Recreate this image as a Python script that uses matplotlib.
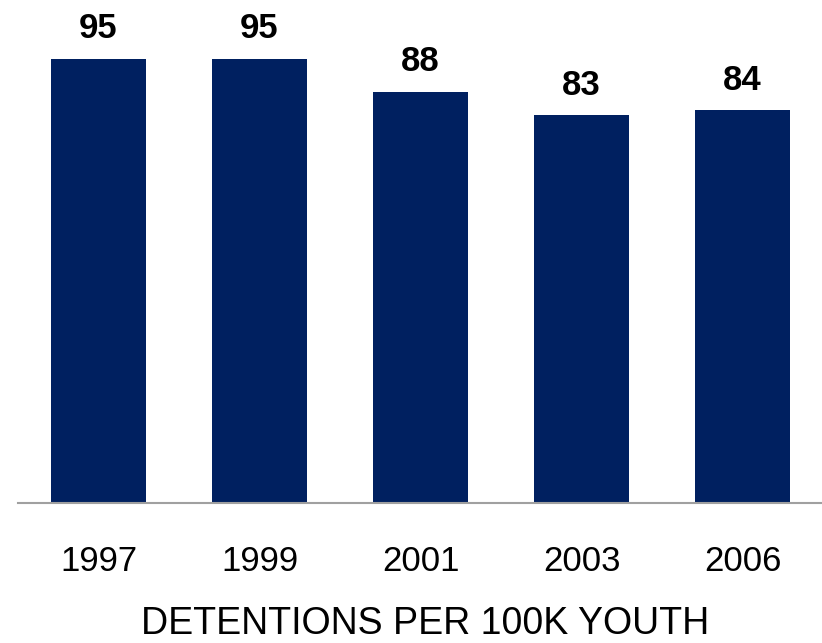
import matplotlib
matplotlib.use("Agg")
import matplotlib.pyplot as plt

plt.rcParams['font.family'] = ['Liberation Sans', 'DejaVu Sans']

years = ["1997", "1999", "2001", "2003", "2006"]
detentions = [95, 95, 88, 83, 84]

fig = plt.figure(figsize=(8.22, 6.43), dpi=100)
ax = fig.add_axes([18 / 822, (643 - 503) / 643, (823 - 18) / 822, 503 / 643])

x = range(len(years))
bars = ax.bar(x, detentions, width=0.59, color="#002060", zorder=2)

ax.set_xlim(-0.5, 4.5)
ax.set_ylim(0, 503 / 4.674)

for rect, v in zip(bars, detentions):
    ax.text(rect.get_x() + rect.get_width() / 2, v + 2.9, str(v),
            ha="center", va="bottom", fontsize=25, fontweight="bold", color="black")

ax.set_xticks(list(x))
ax.set_xticklabels(years, fontsize=25)
ax.tick_params(axis="x", length=0, pad=30)
ax.set_yticks([])
for s in ["top", "right", "left"]:
    ax.spines[s].set_visible(False)
ax.spines["bottom"].set_color("#a0a0a0")
ax.spines["bottom"].set_linewidth(1.5)

fig.text(425 / 822, 1 - 634 / 643, "DETENTIONS PER 100K YOUTH",
         ha="center", va="baseline", fontsize=27)

fig.savefig("out.png", dpi=100)
